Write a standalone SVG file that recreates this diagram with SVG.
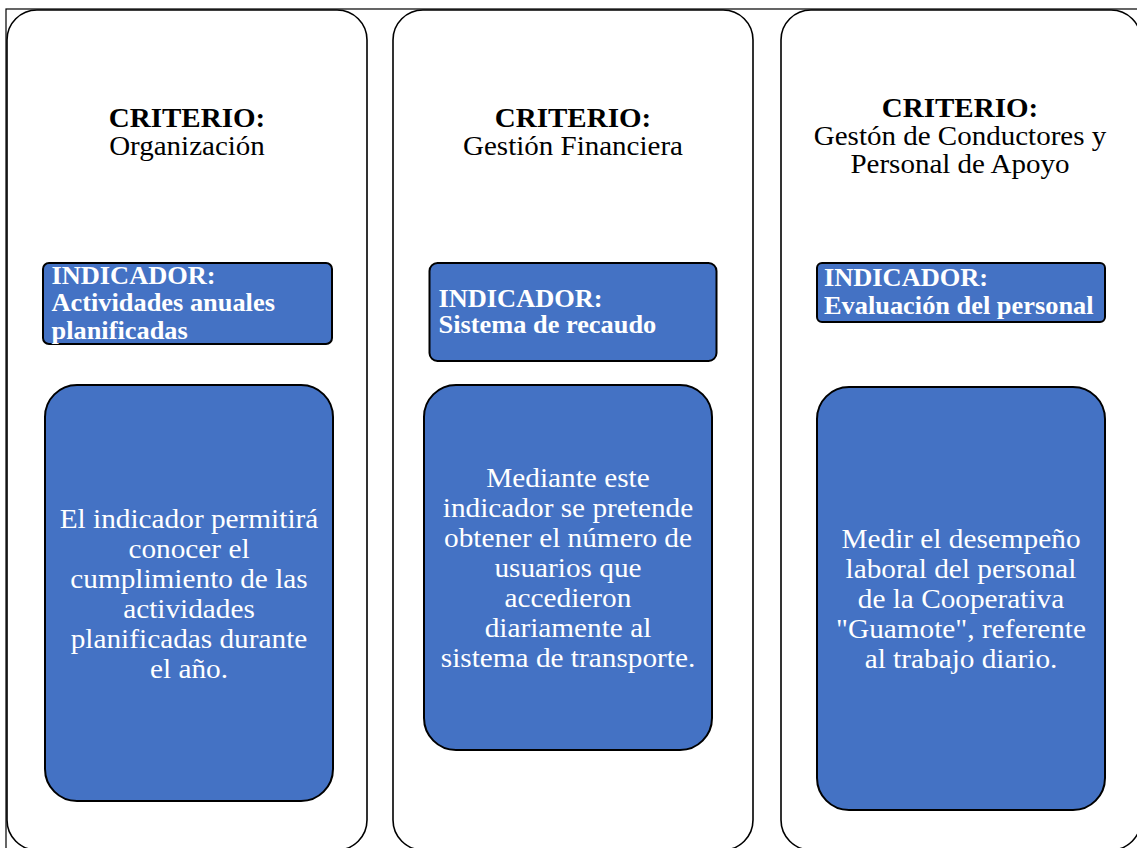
<svg xmlns="http://www.w3.org/2000/svg" width="1137" height="848" viewBox="0 0 1137 848">
<style>
.outer{fill:#fff;stroke:#000;stroke-width:1.6}
.blue{fill:#4472C4;stroke:#000;stroke-width:2}
.t{font-family:"Liberation Serif","Times New Roman",serif;font-size:27px;fill:#000}
.tb{font-weight:bold}
.ind{font-family:"Liberation Serif","Times New Roman",serif;font-size:25px;font-weight:bold;fill:#fff}
.c{font-family:"Liberation Serif","Times New Roman",serif;font-size:27px;fill:#fff}
</style>
<rect x="6" y="9" width="1140" height="850" fill="none" stroke="#000" stroke-width="1.2"/>
<g id="col1">
<rect class="outer" x="7" y="10" width="360" height="840" rx="30"/>
<g transform="translate(187,0) scale(1.075,1)" text-anchor="middle">
<text class="t tb" x="0" y="127">CRITERIO:</text>
<text class="t" x="0" y="155">Organización</text>
</g>
</g>
<g id="ind1">
<rect class="blue" x="43" y="263" width="289" height="81" rx="6"/>
<g transform="translate(51.5,0) scale(1.055,1)">
<text class="ind" x="0" y="284">INDICADOR:</text>
<text class="ind" x="0" y="311.5">Actividades anuales</text>
<text class="ind" x="0" y="339">planificadas</text>
</g>
</g>
<g id="desc1">
<rect class="blue" x="45" y="385" width="288" height="416" rx="32"/>
<g transform="translate(189,0) scale(1.085,1)" text-anchor="middle">
<text class="c" x="0" y="528">El indicador permitirá</text>
<text class="c" x="0" y="558">conocer el</text>
<text class="c" x="0" y="588">cumplimiento de las</text>
<text class="c" x="0" y="618">actividades</text>
<text class="c" x="0" y="648">planificadas durante</text>
<text class="c" x="0" y="678">el año.</text>
</g>
</g>
<g id="col2">
<rect class="outer" x="393" y="10" width="360" height="840" rx="30"/>
<g transform="translate(573,0) scale(1.075,1)" text-anchor="middle">
<text class="t tb" x="0" y="127">CRITERIO:</text>
<text class="t" x="0" y="155">Gestión Financiera</text>
</g>
</g>
<g id="ind2">
<rect class="blue" x="429.5" y="263" width="287" height="98" rx="8"/>
<g transform="translate(438.5,0) scale(1.055,1)">
<text class="ind" x="0" y="307">INDICADOR:</text>
<text class="ind" x="0" y="333">Sistema de recaudo</text>
</g>
</g>
<g id="desc2">
<rect class="blue" x="424" y="385" width="288" height="365" rx="32"/>
<g transform="translate(568,0) scale(1.085,1)" text-anchor="middle">
<text class="c" x="0" y="487">Mediante este</text>
<text class="c" x="0" y="517">indicador se pretende</text>
<text class="c" x="0" y="547">obtener el número de</text>
<text class="c" x="0" y="577">usuarios que</text>
<text class="c" x="0" y="607">accedieron</text>
<text class="c" x="0" y="637">diariamente al</text>
<text class="c" x="0" y="667">sistema de transporte.</text>
</g>
</g>
<g id="col3">
<rect class="outer" x="781" y="10" width="360" height="840" rx="30"/>
<g transform="translate(960,0) scale(1.075,1)" text-anchor="middle">
<text class="t tb" x="0" y="117">CRITERIO:</text>
<text class="t" x="0" y="145">Gestón de Conductores y</text>
<text class="t" x="0" y="173">Personal de Apoyo</text>
</g>
</g>
<g id="ind3">
<rect class="blue" x="817" y="263" width="288" height="59" rx="5"/>
<g transform="translate(824,0) scale(1.055,1)">
<text class="ind" x="0" y="286.5">INDICADOR:</text>
<text class="ind" x="0" y="314">Evaluación del personal</text>
</g>
</g>
<g id="desc3">
<rect class="blue" x="817" y="387" width="288" height="423" rx="32"/>
<g transform="translate(961,0) scale(1.085,1)" text-anchor="middle">
<text class="c" x="0" y="548">Medir el desempeño</text>
<text class="c" x="0" y="578">laboral del personal</text>
<text class="c" x="0" y="608">de la Cooperativa</text>
<text class="c" x="0" y="638">"Guamote", referente</text>
<text class="c" x="0" y="668">al trabajo diario.</text>
</g>
</g>
<g id="connectors"></g>
</svg>
